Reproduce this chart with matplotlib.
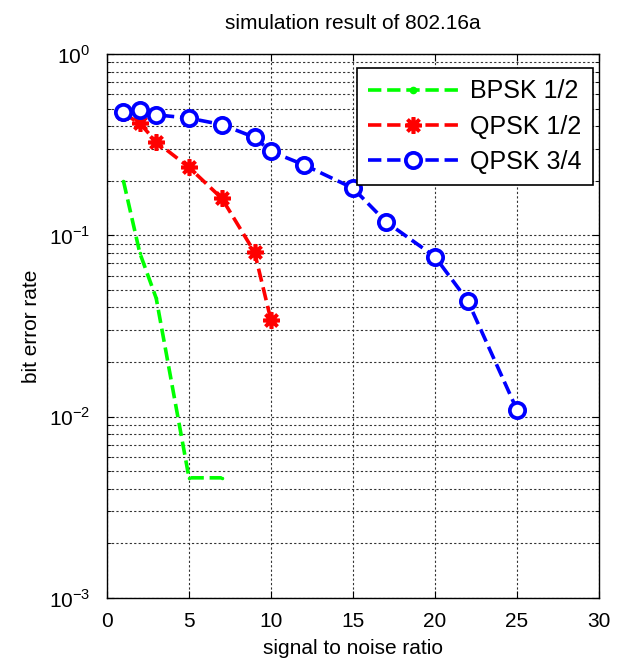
import numpy as np
import matplotlib
matplotlib.use("Agg")
from matplotlib import pyplot as plt

plt.rcParams['font.family'] = ['Liberation Sans', 'DejaVu Sans']
plt.rcParams['mathtext.fontset'] = 'custom'
plt.rcParams['mathtext.rm'] = 'Liberation Sans'

# data
snr_bpsk = [1, 2, 3, 5, 7]
ber_bpsk = [0.2, 0.08, 0.045, 0.0046, 0.0046]

snr_qpsk12 = [1, 2, 3, 5, 7, 9, 10]
ber_qpsk12 = [0.47, 0.415, 0.328, 0.237, 0.16, 0.0806, 0.034]

snr_qpsk34 = [1, 2, 3, 5, 7, 9, 10, 12, 15, 17, 20, 22, 25]
ber_qpsk34 = [0.478, 0.49, 0.462, 0.443, 0.408, 0.347, 0.29, 0.245, 0.182, 0.119, 0.0762, 0.0435, 0.0109]

labels = ['BPSK 1/2', 'QPSK 1/2', 'QPSK 3/4']
xticks = [0, 5, 10, 15, 20, 25, 30]

fig = plt.figure(figsize=(6.21, 6.61), dpi=100)
ax = fig.add_axes([0.1723, 0.0953, 0.7923, 0.8230])

lw = 2.6
ax.semilogy(snr_bpsk, ber_bpsk, '--', color=(0, 1, 0), lw=lw, marker='.', ms=3, label=labels[0])
ax.semilogy(snr_qpsk12, ber_qpsk12, '--', color=(1, 0, 0), lw=lw, marker=(8, 2, 0), ms=12, mew=2.6, label=labels[1])
ax.semilogy(snr_qpsk34, ber_qpsk34, '--', color=(0, 0, 1), lw=lw, marker='o', ms=11, mew=2.7, mfc='white', label=labels[2])

ax.set_xlim(0, 30)
ax.set_ylim(1e-3, 1)
ax.set_xticks(xticks)
ax.set_yticks([1e-3, 1e-2, 1e-1, 1])
ax.set_yticklabels([r'$10^{-3}$', r'$10^{-2}$', r'$10^{-1}$', r'$10^{0}$'])

ax.grid(True, which='major', axis='both', color='0.2', linestyle=(0, (2, 2)), lw=0.8)
ax.grid(True, which='minor', axis='y', color='0.2', linestyle=(0, (2, 2)), lw=0.8)
ax.tick_params(which='both', direction='in', labelsize=15, top=True, right=True)
ax.tick_params(which='major', length=5)
ax.tick_params(which='minor', length=3)
ax.tick_params(axis='x', pad=10)
ax.tick_params(axis='y', pad=12)
for s in ax.spines.values():
    s.set_linewidth(1.0)

ax.set_title('simulation result of 802.16a', fontsize=15, pad=18)
ax.set_xlabel('signal to noise ratio', fontsize=15, labelpad=6)
ax.set_ylabel('bit error rate', fontsize=15, labelpad=6)

leg = ax.legend(loc='upper right', bbox_to_anchor=(0.988, 0.974), borderaxespad=0,
                fontsize=18, handlelength=3.6, handletextpad=0.5, labelspacing=0.45,
                fancybox=False, framealpha=1, edgecolor='black', borderpad=0.45)
leg.get_frame().set_linewidth(1.2)
leg.legend_handles[0].set_markersize(9)

fig.savefig('out.png', dpi=100)
